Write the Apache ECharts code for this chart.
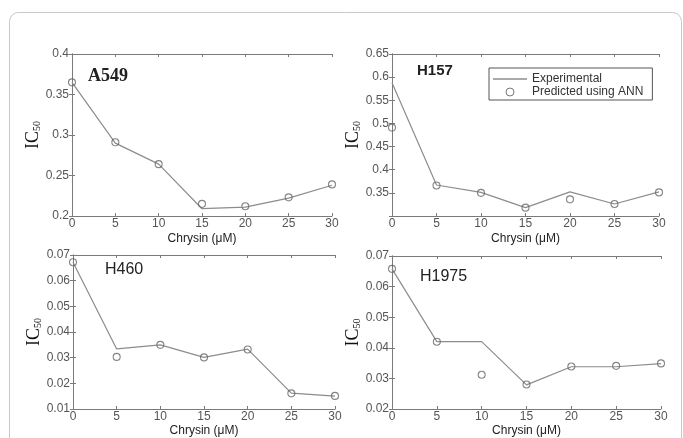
<!DOCTYPE html>
<html>
<head>
<meta charset="utf-8">
<script src="https://cdn.jsdelivr.net/npm/echarts@6/dist/echarts.min.js"></script>
<style>html,body{margin:0;padding:0;background:#fff;}#c{width:683px;height:438px;}</style>
</head>
<body>
<div id="c"></div>
<script>
// Data
const chrysin = [0, 5, 10, 15, 20, 25, 30];
const a549Exp = [0.365, 0.290, 0.264, 0.209, 0.211, 0.222, 0.238];
const a549Ann = [0.365, 0.291, 0.264, 0.215, 0.212, 0.223, 0.239];
const h157Exp = [0.588, 0.367, 0.351, 0.318, 0.352, 0.326, 0.352];
const h157Ann = [0.491, 0.366, 0.350, 0.318, 0.336, 0.326, 0.351];
const h460Exp = [0.0672, 0.0334, 0.0350, 0.0301, 0.0333, 0.0162, 0.0150];
const h460Ann = [0.0672, 0.0303, 0.0350, 0.0301, 0.0332, 0.0161, 0.0151];
const h1975Exp = [0.0658, 0.0420, 0.0420, 0.0279, 0.0338, 0.0338, 0.0348];
const h1975Ann = [0.0658, 0.0420, 0.0312, 0.0280, 0.0339, 0.0341, 0.0349];
const panelNames = ['A549', 'H157', 'H460', 'H1975'];
const yRanges = [[0.2, 0.4, 0.05], [0.3, 0.65, 0.05], [0.01, 0.07, 0.01], [0.02, 0.07, 0.01]];
const xTitle = 'Chrysin (μM)';
const seriesNames = ['Experimental', 'Predicted using ANN'];

const expAll = [a549Exp, h157Exp, h460Exp, h1975Exp];
const annAll = [a549Ann, h157Ann, h460Ann, h1975Ann];

const grids = [
  {left: 72, top: 54, width: 260, height: 162},
  {left: 392, top: 54, width: 267, height: 162},
  {left: 73, top: 255, width: 262, height: 157},
  {left: 392, top: 256, width: 269, height: 157}
];
const axisColor = '#7a7a7a';
const labelColor = '#555';
const sans = 'Liberation Sans, Arial, sans-serif';
const serif = 'Liberation Serif, Times New Roman, serif';

const xAxes = [], yAxes = [], series = [];
grids.forEach((g, i) => {
  const [ymin, ymax, yint] = yRanges[i];
  const baseLine = {show: true, lineStyle: {color: axisColor, width: 1}};
  const tick = {show: true, inside: true, length: 3, lineStyle: {color: axisColor}};
  xAxes.push({
    type: 'value', gridIndex: i, min: 0, max: 30, interval: 5, position: 'bottom',
    axisLine: baseLine, axisTick: tick, splitLine: {show: false},
    axisLabel: {color: labelColor, fontSize: 12, fontFamily: sans, margin: 2},
    name: xTitle, nameLocation: 'middle', nameGap: i < 2 ? 17 : 16, nameMoveOverlap: false,
    nameTextStyle: {color: '#222', fontSize: 12, fontFamily: sans}
  });
  xAxes.push({
    type: 'value', gridIndex: i, min: 0, max: 30, interval: 5, position: 'top',
    axisLine: baseLine, axisTick: tick, splitLine: {show: false}, axisLabel: {show: false}
  });
  yAxes.push({
    type: 'value', gridIndex: i, min: ymin, max: ymax, interval: yint, position: 'left',
    axisLine: baseLine, axisTick: tick, splitLine: {show: false},
    axisLabel: {color: labelColor, fontSize: 12, fontFamily: sans, margin: 3, showMinLabel: i !== 1},
    name: '{a|IC}{b|50}', nameLocation: 'middle', nameRotate: 90, nameGap: 30, nameMoveOverlap: false,
    nameTextStyle: {
      rich: {
        a: {fontFamily: serif, fontSize: 18, color: '#111'},
        b: {fontFamily: serif, fontSize: 10, color: '#111', verticalAlign: 'bottom', padding: [6, 0, 0, 0]}
      }
    }
  });
  yAxes.push({
    type: 'value', gridIndex: i, min: ymin, max: ymax, interval: yint, position: 'right',
    axisLine: baseLine, axisTick: tick, splitLine: {show: false}, axisLabel: {show: false}
  });
  series.push({
    name: seriesNames[0], type: 'line', xAxisIndex: i * 2, yAxisIndex: i * 2,
    data: chrysin.map((x, k) => [x, expAll[i][k]]),
    symbol: 'none', lineStyle: {color: '#8c8c8c', width: 1.2}, itemStyle: {color: '#8c8c8c'},
    z: 2, silent: true
  });
  series.push({
    name: seriesNames[1], type: 'scatter', xAxisIndex: i * 2, yAxisIndex: i * 2,
    data: chrysin.map((x, k) => [x, annAll[i][k]]),
    symbol: 'circle', symbolSize: 7,
    itemStyle: {color: 'transparent', borderColor: '#666', borderWidth: 1.1},
    z: 3, silent: true
  });
});

const titles = [
  {text: panelNames[0], left: 88, top: 67, textStyle: {fontFamily: serif, fontSize: 18, fontWeight: 'bold', color: '#222'}},
  {text: panelNames[1], left: 417, top: 63, textStyle: {fontFamily: sans, fontSize: 15, fontWeight: 'bold', color: '#222'}},
  {text: panelNames[2], left: 105, top: 262, textStyle: {fontFamily: sans, fontSize: 16, fontWeight: 'normal', color: '#222'}},
  {text: panelNames[3], left: 420, top: 269, textStyle: {fontFamily: sans, fontSize: 16, fontWeight: 'normal', color: '#222'}}
].map(t => Object.assign({padding: 0}, t));

const chart = echarts.init(document.getElementById('c'), null, {renderer: 'canvas'});
chart.setOption({
  animation: false,
  backgroundColor: '#fff',
  title: titles,
  grid: grids.map(g => Object.assign({show: false, containLabel: false}, g)),
  xAxis: xAxes,
  yAxis: yAxes,
  legend: {
    left: 489, top: 68, orient: 'vertical',
    padding: [5, 9, 2, 4], itemGap: 1, itemWidth: 34, itemHeight: 8,
    borderColor: '#555', borderWidth: 1, borderRadius: 0,
    textStyle: {fontFamily: sans, fontSize: 12, color: '#333', padding: [0, 0, 0, 0]},
    selectedMode: false,
    data: [
      {name: seriesNames[0], icon: 'path://M0,0h34v1h-34z', itemStyle: {color: '#555', borderWidth: 0}},
      {name: seriesNames[1], icon: 'circle', itemStyle: {color: 'transparent', borderColor: '#555', borderWidth: 1}}
    ]
  },
  graphic: [{
    type: 'rect', shape: {x: 9.5, y: 12.5, width: 672, height: 460, r: 9},
    style: {fill: 'none', stroke: '#c8c8c8', lineWidth: 1}, silent: true, z: -10
  }],
  series: series
});
</script>
</body>
</html>
